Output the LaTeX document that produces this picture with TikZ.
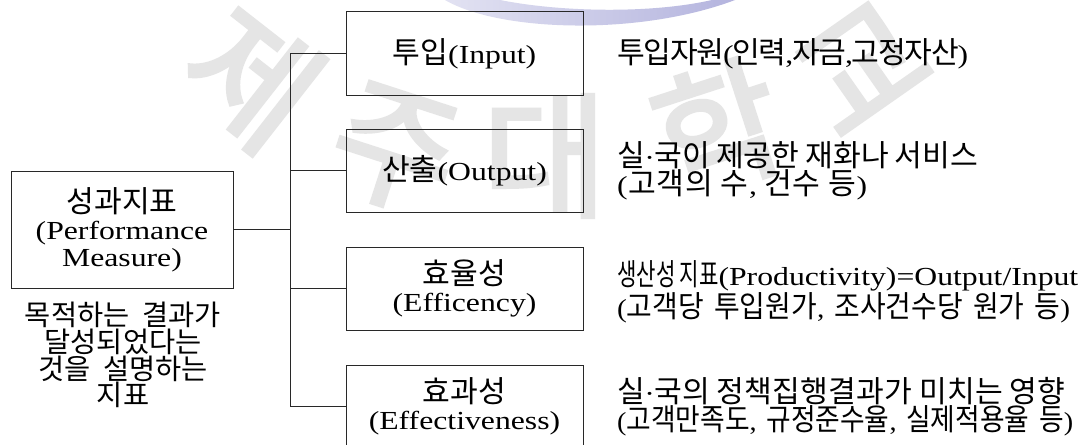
\documentclass[tikz,border=0pt]{standalone}
\usepackage{fontspec}
\usepackage{graphicx}
\setmainfont[Scale=1.16]{Noto Sans CJK KR}
\newfontfamily\lat[FakeStretch=1.22]{Liberation Serif}
\newfontfamily\wmfont[FakeBold=3]{Noto Sans CJK KR}
\makeatletter
\def\spr@A#1{#1\spr@B}
\def\spr@B#1{\ifx#1\relax\else\hskip0pt plus 1fil minus 3pt\relax#1\expandafter\spr@B\fi}
\newcommand\spreadto[2]{\hbox to #1{\spr@A#2\relax}}
\makeatother
\newcommand\fitto[2]{\resizebox{#1}{\height}{#2}}
\newcommand\LP{{\lat(}}
\newcommand\RP{{\lat)}}
\newcommand\CM{{\lat,}}
\newcommand\SP{\hskip6pt\relax}
\newcommand\WS{\hskip11pt\relax}
\newcommand\KS{\hspace{13pt}}
\newcommand\SG{\hbox{실{\lat\kern-0.5pt·\kern-0.5pt}국}}
\definecolor{swooshL}{RGB}{226,226,242}
\definecolor{swooshR}{RGB}{180,180,222}
\definecolor{lineclr}{RGB}{40,40,40}
\tikzset{
  box/.style={draw=lineclr, line width=1pt, minimum width=237pt, minimum height=83pt,
    align=center, inner sep=0pt, font=\fontsize{26}{27}\selectfont},
  conn/.style={draw=lineclr, line width=1pt},
  txt/.style={inner sep=0pt, align=center, font=\fontsize{24.5}{25.3}\selectfont},
  rtxt/.style={inner sep=0pt, anchor=west, align=left, font=\fontsize{26}{25}\selectfont},
  wm/.style={text=black!10, font=\wmfont\fontsize{135}{135}\selectfont, inner sep=0pt}
}
\begin{document}
\begin{tikzpicture}[x=1pt,y=-1pt]
\clip (0,0) rectangle (1083,444);
\fill[white] (0,0) rectangle (1083,444);
% watermark
\shade[left color=swooshL, right color=swooshR]
  (445,0) .. controls (500,32) and (640,36) .. (735,0)
  -- (712,0) .. controls (650,14) and (560,12) .. (500,0) -- cycle;
\node[wm, rotate=-38] (wm1) at (252,78) {제};
\node[wm, rotate=-18] (wm2) at (395,150) {주};
\node[wm] (wm3) at (545,156) {대};
\node[wm, rotate=18] (wm4) at (718,128) {학};
\node[wm, rotate=35] (wm5) at (862,68) {교};
% boxes
\node[box, minimum width=222pt, minimum height=117pt] (main) at (122,229.5)
  {성과지표\\{\lat(Performance}\\{\lat Measure)}};
\node[box] (b1) at (464.5,53.5) {투입{\lat(Input)}};
\node[box] (b2) at (464.5,170.5) {산출{\lat(Output)}};
\node[box] (b3) at (464.5,288.5) {효율성\\{\lat(Efficency)}};
\node[box] (b4) at (464.5,406.5) {효과성\\{\lat(Effectiveness)}};
% connectors
\coordinate (tk) at (290,0);
\draw[conn] (main.east) -- (main.east -| tk);
\draw[conn] (b1.west) -- (b1.west -| tk) -- (b4.west -| tk) -- (b4.west);
\draw[conn] (b2.west) -- (b2.west -| tk);
\draw[conn] (b3.west) -- (b3.west -| tk);
% description under main box
\node[txt] (desc) at (123,355) {목적하는\KS 결과가\\달성되었다는\\것을\KS 설명하는\\지표};
% right texts
\node[rtxt] (r1) at (617,53.5) {\spreadto{351pt}{투입자원\LP 인력\CM 자금\CM 고정자산\RP}};
\node[rtxt] (r2) at (617,170.5) {\spreadto{361pt}{\SG 이\SP 제공한\SP 재화나\SP 서비스}\\
  \spreadto{250pt}{\LP 고객의\SP 수\CM\SP 건수\SP 등\RP}};
\node[rtxt] (r3) at (617,292) {\hbox to 455pt{\scalebox{0.7}[1]{생산성\hskip6pt 지표}\hfil{\lat(Productivity)=Output/Input}}\\
  \fitto{453pt}{\LP 고객당\WS 투입원가\CM\WS 조사건수당\WS 원가\WS 등\RP}};
\node[rtxt] (r4) at (617,406.5) {\spreadto{448pt}{\SG 의\SP 정책집행결과가\SP 미치는\SP 영향}\\
  \fitto{456pt}{\LP 고객만족도\CM\WS 규정준수율\CM\WS 실제적용율\WS 등\RP}};
\end{tikzpicture}
\end{document}
